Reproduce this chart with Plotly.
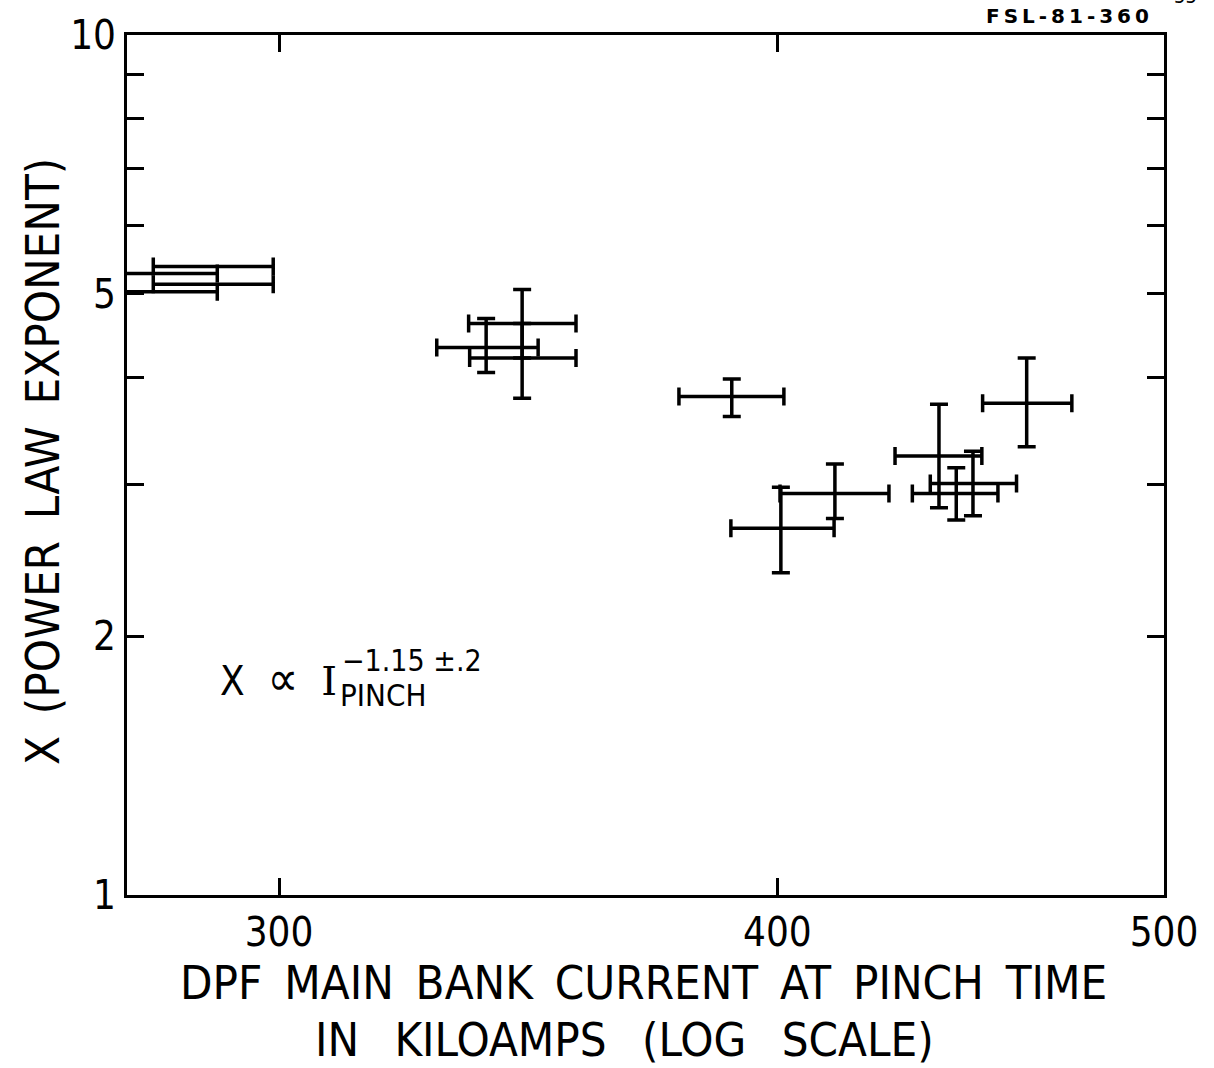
import math
import plotly.graph_objects as go

# Shots whose exponent was fixed only in current (horizontal bars only)
cur_a = [289.0, 280.0, 289.0, 280.0]
cur_a_err = [10.0, 9.5, 10.0, 9.5]
exp_a = [5.38, 5.28, 5.13, 5.03]

# Shots with uncertainty in both current and exponent
cur_b = [338.1, 345.2, 345.2, 389.6, 400.8, 413.5, 461.9, 439.1, 443.5, 447.8]
cur_b_minus = [9.5, 10.5, 10.3, 11.7, 11.4, 12.9, 11.6, 11.0, 11.1, 10.9]
cur_b_plus = [10.3, 10.9, 10.9, 11.9, 12.5, 13.1, 12.2, 11.0, 10.8, 11.4]
exp_b = [4.33, 4.62, 4.21, 3.80, 2.67, 2.93, 3.73, 3.24, 2.93, 3.01]
exp_b_plus = [0.35, 0.44, 0.41, 0.18, 0.31, 0.24, 0.48, 0.48, 0.21, 0.27]
exp_b_minus = [0.28, 0.41, 0.43, 0.20, 0.30, 0.19, 0.41, 0.42, 0.20, 0.25]

x_tick_vals = [300, 400, 500]
x_tick_text = ["300", "400", "500"]
y_tick_vals = [1, 2, 3, 4, 5, 6, 7, 8, 9, 10]
y_tick_text = ["1", "2", "", "", "5", "", "", "", "", "10"]

FONT = "Liberation Sans Narrow, DejaVu Sans Condensed, Roboto Condensed, Liberation Sans, sans-serif"
INK = "black"
BAR_W = 3.5
CAP = 9
GAP = "\u00a0\u2009"            # wide word gap used in the hand lettering
WIDE_GAP = "\u00a0\u00a0\u2009"

fig = go.Figure()

fig.add_trace(go.Scatter(
    x=cur_a, y=exp_a, mode="markers",
    marker=dict(size=1, color=INK),
    error_x=dict(type="data", array=cur_a_err, symmetric=True,
                 color=INK, thickness=BAR_W, width=CAP),
    showlegend=False, hoverinfo="skip",
))

fig.add_trace(go.Scatter(
    x=cur_b, y=exp_b, mode="markers",
    marker=dict(size=1, color=INK),
    error_x=dict(type="data", array=cur_b_plus, arrayminus=cur_b_minus,
                 symmetric=False, color=INK, thickness=BAR_W, width=CAP),
    error_y=dict(type="data", array=exp_b_plus, arrayminus=exp_b_minus,
                 symmetric=False, color=INK, thickness=BAR_W, width=CAP),
    showlegend=False, hoverinfo="skip",
))

fig.update_xaxes(
    type="log", range=[math.log10(274.8), math.log10(500)],
    tickvals=x_tick_vals, ticktext=x_tick_text,
    ticks="inside", ticklen=17, tickwidth=3, tickcolor=INK,
    showline=True, linewidth=3, linecolor=INK, mirror="ticks",
    showgrid=False, zeroline=False,
    tickfont=dict(family=FONT, size=40, color=INK),
)
fig.update_yaxes(
    type="log", range=[0, 1],
    tickvals=y_tick_vals, ticktext=y_tick_text,
    ticks="inside", ticklen=17, tickwidth=3, tickcolor=INK,
    showline=True, linewidth=3, linecolor=INK, mirror="ticks",
    showgrid=False, zeroline=False,
    tickfont=dict(family=FONT, size=40, color=INK),
)

notes = [
    dict(text=GAP.join(["DPF", "MAIN", "BANK", "CURRENT", "AT", "PINCH", "TIME"]),
         x=0.498, y=-0.1020, size=47, xanchor="center", angle=0),
    dict(text=WIDE_GAP.join(["IN", "KILOAMPS", "(LOG", "SCALE)"]),
         x=0.480, y=-0.1680, size=47, xanchor="center", angle=0),
    dict(text=GAP.join(["X", "(POWER", "LAW", "EXPONENT)"]),
         x=-0.082, y=0.5046, size=47, xanchor="center", angle=-90),
    dict(text="X\u00a0\u00a0<span style='font-size:48px'>\u221d</span>\u00a0\u00a0"
              "<span style='font-family:DejaVu Serif'>I</span>",
         x=0.0878, y=0.2529, size=40, xanchor="left", angle=0),
    dict(text="\u22121.15\u00a0\u00b1.2", x=0.2055, y=0.2726, size=30, xanchor="left", angle=0),
    dict(text="PINCH", x=0.2035, y=0.2320, size=31, xanchor="left", angle=0),
]
for n in notes:
    fig.add_annotation(
        text=n["text"], xref="paper", yref="paper", x=n["x"], y=n["y"],
        xanchor=n["xanchor"], yanchor="middle", showarrow=False,
        textangle=n["angle"], font=dict(family=FONT, size=n["size"], color=INK),
    )

fig.add_annotation(
    text="<b>F\u2009S\u2009L\u2009-\u20098\u20091\u2009-\u20093\u20096\u20090</b>",
    xref="paper", yref="paper", x=0.907, y=1.0220,
    xanchor="center", yanchor="middle", showarrow=False,
    font=dict(family="DejaVu Sans, sans-serif", size=20, color=INK),
)
fig.add_annotation(
    text="55", xref="paper", yref="paper", x=1.0203, y=1.0452,
    xanchor="center", yanchor="middle", showarrow=False,
    font=dict(family=FONT, size=20, color=INK),
)

fig.update_layout(
    width=1214, height=1068,
    margin=dict(l=127, r=50, t=33, b=173),
    paper_bgcolor="white", plot_bgcolor="white",
)

fig.write_html("out.html")
